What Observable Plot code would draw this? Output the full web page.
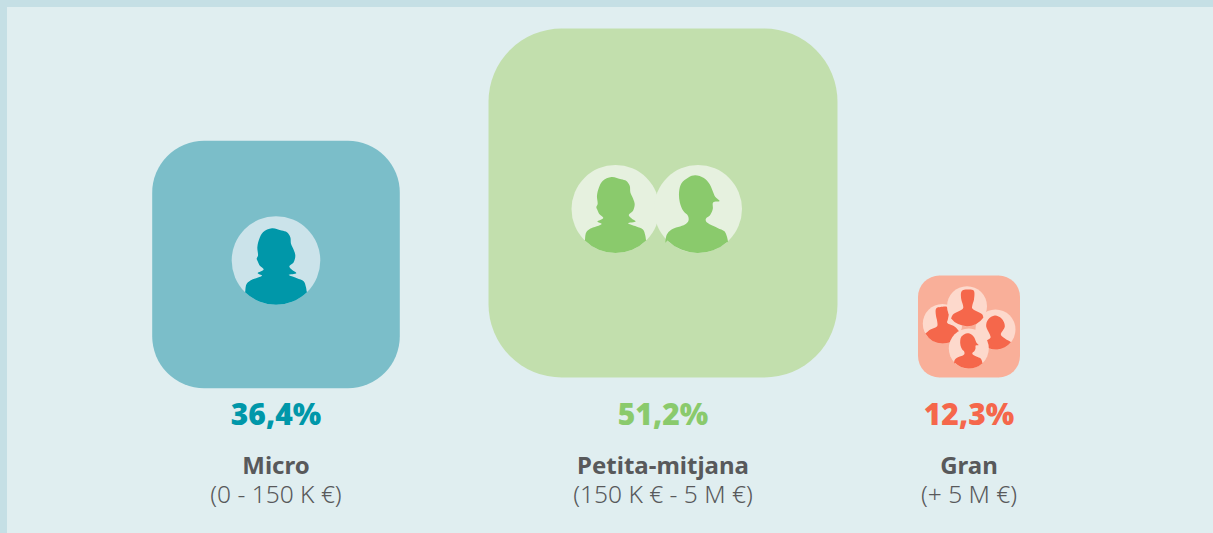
<!DOCTYPE html>
<html><head><meta charset="utf-8">
<script src="https://cdn.jsdelivr.net/npm/d3@7"></script>
<script src="https://cdn.jsdelivr.net/npm/@observablehq/plot@0.6"></script>
<style>html,body{margin:0;padding:0;background:#e0eef0}</style>
</head><body><div id="chart"></div>
<script>
// Data
const categories = ["Micro", "Petita-mitjana", "Gran"];
const ranges = ["(0 - 150 K €)", "(150 K € - 5 M €)", "(+ 5 M €)"];
const shares = [36.4, 51.2, 12.3];
const shareLabels = ["36,4%", "51,2%", "12,3%"];

// Layout and style
const centerX = [275.5, 662.5, 968.5];
const centerY = [264, 202.5, 326];
const tileColor = ["#7bbec9", "#c2dfad", "#f9af99"];
const discColor = ["#cbe3ea", "#e6f1df", "#fdd9cc"];
const inkColor = ["#0097a9", "#8aca6c", "#f5674b"];
const rowPct = 415, rowName = 466, rowRange = 495;

// People icons: owner category, glyph, centre, radius (in drawing order)
const iconCat = [0, 1, 1, 2, 2, 2, 2];
const iconGlyph = ["woman", "woman", "man", "right", "left", "top", "man"];
const iconX = [275.5, 615, 697.5, 995, 942, 966.5, 968.3];
const iconY = [260, 208.5, 208.5, 329, 323.3, 305.7, 348];
const iconR = [44.3, 44, 44, 20, 19.7, 20, 20];

function outline(points, px, py, pr) {
  return points.map(([x, y]) => [(x - px) / pr, (y - py) / pr]);
}
const womanPts = outline([[499,483],[497,470],[490,452],[470,443],[445,433],[468,428],[455,418],[447,408],[460,395],[465,375],[460,358],[452,340],[450,320],[440,305],[424,300],[395,293],[368,305],[357,325],[351,350],[353,375],[349,385],[352,392],[358,405],[370,417],[352,428],[365,435],[330,450],[318,462],[315,483]], 407, 390, 133);
const manPts = outline([[501,258],[497,240],[490,225],[470,215],[437,197],[436,188],[448,178],[456,160],[457,141],[476,137],[463,124],[456,108],[447,88],[430,70],[405,62],[385,68],[365,85],[358,110],[360,140],[370,165],[384,180],[385,195],[375,205],[335,220],[322,235],[318,258]], 413, 160, 128);
const topPts = outline([[113,100],[110,90],[80,72],[80,62],[85,45],[84,18],[65,15],[48,20],[47,45],[52,62],[52,72],[22,90],[17,100]], 64, 65, 60);
const leftPts = outline([[120,147],[105,128],[80,115],[82,105],[85,85],[80,68],[60,68],[47,72],[46,90],[50,110],[50,125],[30,135],[12,150]], 66, 118, 59);
const rightPts = outline([[195,172],[175,160],[166,150],[178,125],[168,102],[148,93],[128,105],[122,125],[133,150],[135,160],[118,172],[112,180]], 150, 135, 60);

function glyph(points) {
  return {draw(ctx, size) {
    const k = Math.sqrt(size / Math.PI);
    const pts = points.map(([x, y]) => [x * k, y * k]);
    d3.line().curve(d3.curveCatmullRom.alpha(0.5)).context({
      moveTo: (x, y) => ctx.moveTo(x, y),
      lineTo: (x, y) => ctx.lineTo(x, y),
      bezierCurveTo: (a, b, c, d, e, f) => ctx.bezierCurveTo(a, b, c, d, e, f),
      closePath: () => {}
    })(pts);
    const [x0, y0] = points[0], [x1, y1] = points[points.length - 1];
    ctx.arc(0, 0, k, Math.atan2(y1, x1), Math.atan2(y0, x0), true);
    ctx.closePath();
  }};
}
const glyphs = {woman: glyph(womanPts), man: glyph(manPts), top: glyph(topPts), left: glyph(leftPts), right: glyph(rightPts)};

const roundedTile = {draw(ctx, size) {
  const h = Math.sqrt(size / Math.PI), c = h * 0.42;
  ctx.moveTo(-h + c, -h);
  ctx.arcTo(h, -h, h, h, c);
  ctx.arcTo(h, h, -h, h, c);
  ctx.arcTo(-h, h, -h, -h, c);
  ctx.arcTo(-h, -h, h, -h, c);
  ctx.closePath();
}};

const table = categories.map((name, i) => ({
  name, range: ranges[i], share: shares[i], label: shareLabels[i],
  x: centerX[i], y: centerY[i], tile: tileColor[i], ink: inkColor[i]
}));
const icons = iconCat.map((c, i) => ({
  glyph: iconGlyph[i], x: iconX[i], y: iconY[i], r: iconR[i],
  disc: discColor[c], ink: inkColor[c]
}));

const plot = Plot.plot({
  width: 1213, height: 533,
  margin: 0,
  style: "background:#e0eef0;box-shadow:inset 7px 7px 0 #c5dfe5;display:block",
  x: {domain: [0, 1213], range: [0, 1213], axis: null},
  y: {domain: [0, 533], range: [0, 533], axis: null},
  r: {type: "linear", domain: [12.3, 36.4, 51.2], range: [51, 123.8, 174.5]},
  color: {type: "identity"},
  marks: [
    Plot.dot(table, {x: "x", y: "y", r: "share", symbol: roundedTile, fill: "tile", stroke: null}),
    ...icons.flatMap(d => [
      Plot.dot([d], {x: "x", y: "y", r: d.r, fill: d.disc, stroke: null}),
      Plot.dot([d], {x: "x", y: "y", r: d.r, symbol: glyphs[d.glyph], fill: d.ink, stroke: null})
    ]),
    Plot.text(table, {x: "x", y: () => rowPct, text: "label", fill: "ink", fontSize: 30, fontWeight: 900, fontFamily: "Noto Sans"}),
    Plot.text(table, {x: "x", y: () => rowName, text: "name", fill: "#58595b", fontSize: 24, fontWeight: 700, fontFamily: "Noto Sans"}),
    Plot.text(table, {x: "x", y: () => rowRange, text: "range", fill: "#58595b", fontSize: 24.5, fontWeight: 300, fontFamily: "Noto Sans"})
  ]
});
document.getElementById("chart").append(plot);
</script></body></html>
